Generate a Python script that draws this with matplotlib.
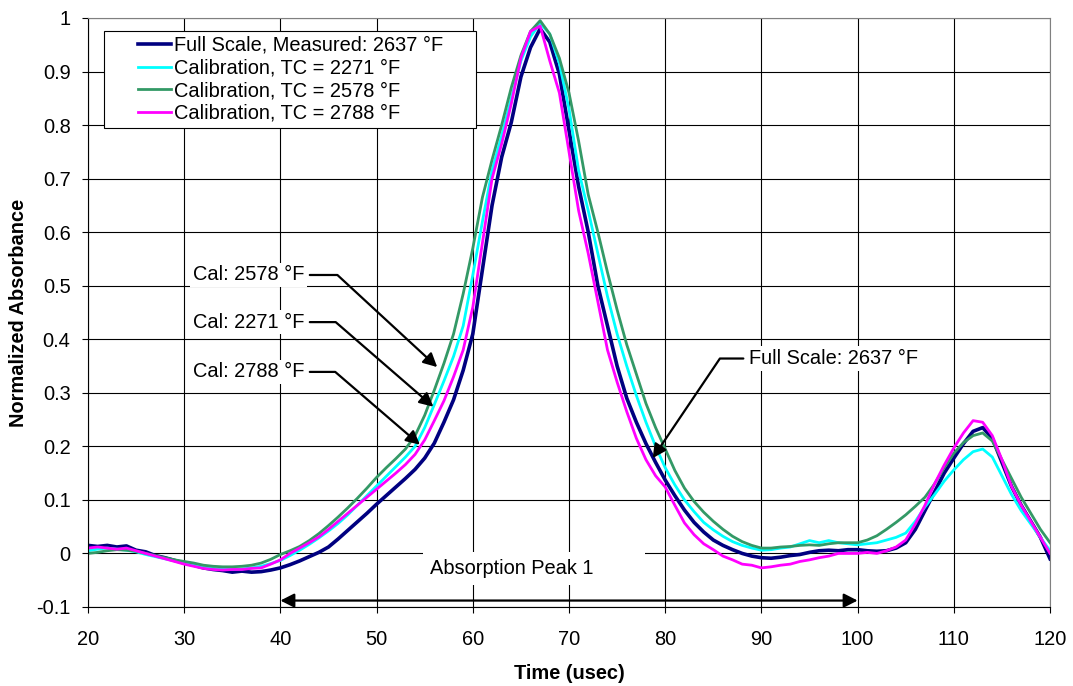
import matplotlib
matplotlib.use("Agg")
import matplotlib.pyplot as plt
from matplotlib.legend_handler import HandlerLine2D

plt.rcParams['font.family'] = ['Liberation Sans', 'DejaVu Sans']

# sample times (usec)
time = list(range(20, 121))

# Full Scale, Measured: 2637 F
full_scale = [
    0.015, 0.013, 0.015, 0.012, 0.014, 0.006, 0.003, -0.004, -0.008, -0.013,
    -0.018, -0.022, -0.027, -0.030, -0.032, -0.035, -0.033, -0.035, -0.034, -0.031,
    -0.027, -0.021, -0.014, -0.006, 0.002, 0.012, 0.027, 0.043, 0.059, 0.075,
    0.092, 0.108, 0.124, 0.140, 0.157, 0.178, 0.206, 0.245, 0.287, 0.342,
    0.410, 0.530, 0.650, 0.740, 0.805, 0.890, 0.945, 0.980, 0.955, 0.895,
    0.790, 0.685, 0.600, 0.500, 0.425, 0.350, 0.290, 0.245, 0.205, 0.170,
    0.137, 0.108, 0.081, 0.058, 0.040, 0.025, 0.015, 0.007, 0.000, -0.005,
    -0.008, -0.009, -0.007, -0.004, -0.002, 0.002, 0.005, 0.006, 0.005, 0.007,
    0.007, 0.005, 0.004, 0.005, 0.010, 0.020, 0.045, 0.080, 0.115, 0.150,
    0.178, 0.205, 0.228, 0.235, 0.215, 0.170, 0.125, 0.090, 0.060, 0.030,
    -0.010,
]

# Calibration, TC = 2271 F
cal_2271 = [
    0.005, 0.008, 0.010, 0.008, 0.006, 0.003, -0.002, -0.006, -0.010, -0.014,
    -0.017, -0.021, -0.025, -0.028, -0.030, -0.030, -0.029, -0.027, -0.024, -0.019,
    -0.013, -0.004, 0.006, 0.017, 0.029, 0.042, 0.056, 0.072, 0.090, 0.108,
    0.126, 0.144, 0.162, 0.180, 0.200, 0.235, 0.278, 0.322, 0.368, 0.425,
    0.520, 0.620, 0.715, 0.780, 0.850, 0.920, 0.965, 0.990, 0.970, 0.915,
    0.830, 0.715, 0.640, 0.560, 0.480, 0.410, 0.350, 0.295, 0.245, 0.200,
    0.160, 0.128, 0.100, 0.078, 0.058, 0.044, 0.032, 0.022, 0.015, 0.010,
    0.006, 0.007, 0.010, 0.012, 0.018, 0.024, 0.020, 0.024, 0.020, 0.018,
    0.016, 0.018, 0.020, 0.025, 0.030, 0.038, 0.060, 0.087, 0.110, 0.135,
    0.156, 0.175, 0.190, 0.195, 0.180, 0.145, 0.110, 0.080, 0.055, 0.030,
    0.005,
]

# Calibration, TC = 2578 F
cal_2578 = [
    0.000, 0.002, 0.005, 0.007, 0.006, 0.004, 0.000, -0.004, -0.008, -0.012,
    -0.015, -0.018, -0.022, -0.024, -0.025, -0.025, -0.024, -0.022, -0.018, -0.011,
    -0.002, 0.005, 0.013, 0.024, 0.037, 0.052, 0.068, 0.085, 0.103, 0.122,
    0.142, 0.160, 0.177, 0.195, 0.220, 0.258, 0.305, 0.355, 0.410, 0.485,
    0.570, 0.665, 0.735, 0.800, 0.870, 0.930, 0.975, 0.995, 0.970, 0.925,
    0.860, 0.770, 0.670, 0.600, 0.525, 0.455, 0.390, 0.335, 0.280, 0.235,
    0.195, 0.155, 0.122, 0.097, 0.077, 0.060, 0.045, 0.032, 0.022, 0.015,
    0.010, 0.010, 0.012, 0.013, 0.015, 0.016, 0.015, 0.018, 0.020, 0.020,
    0.020, 0.025, 0.033, 0.045, 0.058, 0.072, 0.088, 0.105, 0.130, 0.160,
    0.187, 0.207, 0.220, 0.225, 0.210, 0.175, 0.140, 0.105, 0.075, 0.045,
    0.020,
]

# Calibration, TC = 2788 F
cal_2788 = [
    0.010, 0.012, 0.010, 0.008, 0.010, 0.005, 0.000, -0.005, -0.010, -0.015,
    -0.020, -0.024, -0.028, -0.030, -0.031, -0.030, -0.030, -0.028, -0.027, -0.020,
    -0.012, 0.000, 0.010, 0.020, 0.031, 0.045, 0.060, 0.075, 0.090, 0.105,
    0.120, 0.135, 0.150, 0.166, 0.185, 0.212, 0.248, 0.285, 0.330, 0.380,
    0.460, 0.580, 0.700, 0.765, 0.840, 0.925, 0.975, 0.985, 0.920, 0.860,
    0.750, 0.640, 0.560, 0.470, 0.380, 0.320, 0.265, 0.215, 0.175, 0.145,
    0.124, 0.090, 0.057, 0.035, 0.018, 0.007, -0.005, -0.012, -0.020, -0.022,
    -0.027, -0.025, -0.022, -0.020, -0.015, -0.012, -0.008, -0.005, 0.000, 0.000,
    0.000, 0.002, 0.000, 0.005, 0.012, 0.025, 0.055, 0.090, 0.130, 0.165,
    0.197, 0.225, 0.248, 0.245, 0.220, 0.175, 0.125, 0.090, 0.060, 0.030,
    0.000,
]

series = [
    ("Full Scale, Measured: 2637 °F", full_scale, "#000080", 2.6),
    ("Calibration, TC = 2271 °F", cal_2271, "#00FFFF", 2.0),
    ("Calibration, TC = 2578 °F", cal_2578, "#339966", 2.0),
    ("Calibration, TC = 2788 °F", cal_2788, "#FF00FF", 2.0),
]

FS = 14.4


class ShortLine(HandlerLine2D):
    # excel style: short line at the right of a wider handle box
    def get_xdata(self, legend, xdescent, ydescent, width, height, fontsize):
        x1 = -xdescent + width
        x0 = x1 - 1.65 * fontsize
        return [x0, x1], [x0, x1]


fig = plt.figure(figsize=(10.73, 6.86), dpi=100)
ax = fig.add_axes([0.0820, 0.1152, 0.8966, 0.8586])

lines = []
for label, vals, color, lw in series:
    ln, = ax.plot(time, vals, color=color, lw=lw, label=label)
    lines.append(ln)

ax.set_xlim(20, 120)
ax.set_ylim(-0.1, 1.0)
ax.set_xticks(range(20, 121, 10))
ax.set_yticks([-0.1, 0, 0.1, 0.2, 0.3, 0.4, 0.5, 0.6, 0.7, 0.8, 0.9, 1.0])
ax.set_yticklabels(["-0.1", "0", "0.1", "0.2", "0.3", "0.4", "0.5",
                    "0.6", "0.7", "0.8", "0.9", "1"])
ax.tick_params(direction='out', length=4.5, width=0.8, labelsize=FS)
ax.tick_params(axis='x', pad=12)
ax.tick_params(axis='y', pad=8)
ax.grid(True, color='black', lw=0.8)
ax.set_axisbelow(True)
for s in ['left', 'bottom']:
    ax.spines[s].set_color('black')
    ax.spines[s].set_linewidth(0.8)
for s in ['top', 'right']:
    ax.spines[s].set_color('#808080')
    ax.spines[s].set_linewidth(0.8)

ax.set_xlabel("Time (usec)", fontsize=FS, fontweight='bold', labelpad=11)
ax.set_ylabel("Normalized Absorbance", fontsize=FS, fontweight='bold', labelpad=6)

# trailing blanks keep the right margin of the excel legend box
leg_labels = [s[0] for s in series]
leg_labels[0] = leg_labels[0] + "     "
leg = ax.legend(lines, leg_labels, loc='upper left', bbox_to_anchor=(0.0166, 0.978),
                borderaxespad=0, fontsize=FS, frameon=True, fancybox=False,
                framealpha=1, edgecolor='black', handlelength=3.1,
                handletextpad=0.15, labelspacing=0.18, borderpad=0.25,
                handler_map={ln: ShortLine() for ln in lines})
leg.get_frame().set_linewidth(0.8)

arrow_kw = dict(arrowstyle='-|>,head_length=0.55,head_width=0.28', color='black',
                lw=1.6, mutation_scale=15, shrinkB=0)
box_kw = dict(facecolor='white', edgecolor='none', pad=2)

# calibration call-outs
ax.annotate("Cal: 2578 °F", xy=(56.3, 0.348), xytext=(30.9, 0.520),
            fontsize=FS, va='center', ha='left', bbox=box_kw,
            arrowprops=dict(connectionstyle="angle,angleA=0,angleB=-42.7,rad=0", **arrow_kw))
ax.annotate("Cal: 2271 °F", xy=(55.9, 0.274), xytext=(30.9, 0.432),
            fontsize=FS, va='center', ha='left', bbox=box_kw,
            arrowprops=dict(connectionstyle="angle,angleA=0,angleB=-40.9,rad=0", **arrow_kw))
ax.annotate("Cal: 2788 °F", xy=(54.5, 0.203), xytext=(30.9, 0.339),
            fontsize=FS, va='center', ha='left', bbox=box_kw,
            arrowprops=dict(connectionstyle="angle,angleA=0,angleB=-40.7,rad=0", **arrow_kw))
ax.annotate("Full Scale: 2637 °F", xy=(78.7, 0.178), xytext=(88.7, 0.364),
            fontsize=FS, va='center', ha='left', bbox=box_kw,
            arrowprops=dict(connectionstyle="angle,angleA=0,angleB=56,rad=0", **arrow_kw))

# absorption window
ax.text(55.6, -0.011, "Absorption Peak 1        ", fontsize=FS,
        va='top', ha='left', bbox=dict(facecolor='white', edgecolor='none', pad=5))
ax.annotate("", xy=(100, -0.088), xytext=(40, -0.088),
            arrowprops=dict(arrowstyle='<|-|>,head_length=0.55,head_width=0.28',
                            color='black', lw=1.6, mutation_scale=15,
                            shrinkA=0, shrinkB=0))

fig.savefig("out.png", dpi=100)
